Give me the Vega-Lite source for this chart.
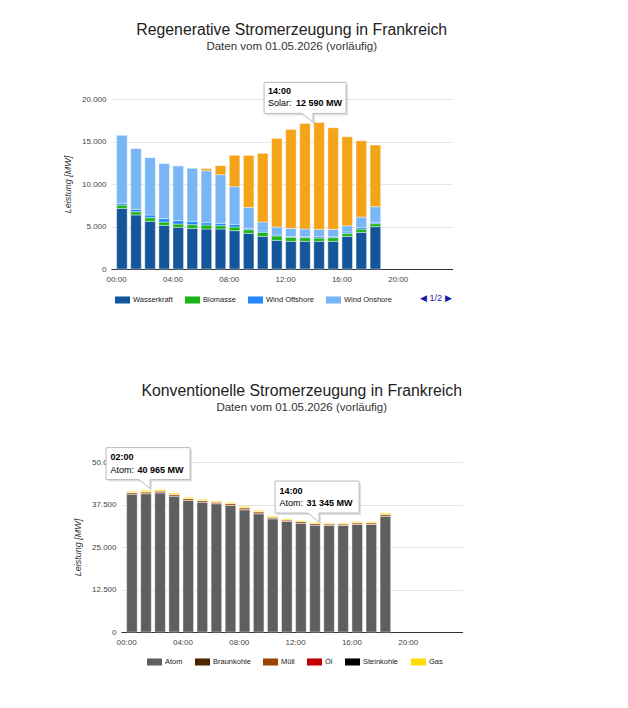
{
  "$schema": "https://vega.github.io/schema/vega-lite/v6.json",
  "padding": {"left": 63, "top": 22, "right": 10, "bottom": 10},
  "config": {
    "font": "Liberation Sans",
    "view": {"stroke": null},
    "legend": {"symbolType": "M-1,-0.47H1V0.47H-1Z", "symbolSize": 225, "symbolStrokeWidth": 0, "symbolOpacity": 1, "labelFontSize": 7.5, "labelColor": "#222", "labelOffset": 3, "columnPadding": 12, "orient": "bottom", "direction": "horizontal", "title": null},
    "title": {"fontSize": 15.8, "fontWeight": "normal", "color": "#222", "subtitleFontSize": 11.5, "subtitleColor": "#333", "subtitlePadding": 2, "anchor": "middle", "dx": 10},
    "axisX": {"labelFontSize": 8, "labelColor": "#444", "labelPadding": 6, "labelOffset": -5.3, "ticks": false, "grid": false, "domainColor": "#333", "domainWidth": 1.2, "labelAngle": 0, "title": null},
    "axisY": {"labelFontSize": 8, "labelColor": "#444", "labelPadding": 5, "ticks": false, "domain": false, "gridColor": "#e6e6e6", "titleFontStyle": "italic", "titleFontWeight": "normal", "titleFontSize": 9, "titleColor": "#333", "titlePadding": 9}
  },
  "datasets": {
    "reg": [
      {"time": "00:00", "Wasserkraft": 7130, "Biomasse": 390, "Wind Offshore": 200, "Wind Onshore": 8040, "Solar": 0},
      {"time": "01:00", "Wasserkraft": 6350, "Biomasse": 390, "Wind Offshore": 275, "Wind Onshore": 7175, "Solar": 0},
      {"time": "02:00", "Wasserkraft": 5605, "Biomasse": 430, "Wind Offshore": 315, "Wind Onshore": 6780, "Solar": 0},
      {"time": "03:00", "Wasserkraft": 5135, "Biomasse": 390, "Wind Offshore": 395, "Wind Onshore": 6505, "Solar": 0},
      {"time": "04:00", "Wasserkraft": 4900, "Biomasse": 390, "Wind Offshore": 395, "Wind Onshore": 6465, "Solar": 0},
      {"time": "05:00", "Wasserkraft": 4780, "Biomasse": 430, "Wind Offshore": 395, "Wind Onshore": 6275, "Solar": 0},
      {"time": "06:00", "Wasserkraft": 4705, "Biomasse": 470, "Wind Offshore": 275, "Wind Onshore": 6115, "Solar": 235},
      {"time": "07:00", "Wasserkraft": 4705, "Biomasse": 390, "Wind Offshore": 275, "Wind Onshore": 5725, "Solar": 1060},
      {"time": "08:00", "Wasserkraft": 4510, "Biomasse": 430, "Wind Offshore": 315, "Wind Onshore": 4430, "Solar": 3685},
      {"time": "09:00", "Wasserkraft": 4195, "Biomasse": 430, "Wind Offshore": 155, "Wind Onshore": 2470, "Solar": 6115},
      {"time": "10:00", "Wasserkraft": 3840, "Biomasse": 470, "Wind Offshore": 160, "Wind Onshore": 1060, "Solar": 8075},
      {"time": "11:00", "Wasserkraft": 3370, "Biomasse": 510, "Wind Offshore": 120, "Wind Onshore": 940, "Solar": 10425},
      {"time": "12:00", "Wasserkraft": 3255, "Biomasse": 470, "Wind Offshore": 120, "Wind Onshore": 940, "Solar": 11640},
      {"time": "13:00", "Wasserkraft": 3255, "Biomasse": 430, "Wind Offshore": 120, "Wind Onshore": 900, "Solar": 12425},
      {"time": "14:00", "Wasserkraft": 3255, "Biomasse": 390, "Wind Offshore": 155, "Wind Onshore": 860, "Solar": 12590},
      {"time": "15:00", "Wasserkraft": 3255, "Biomasse": 430, "Wind Offshore": 120, "Wind Onshore": 860, "Solar": 11955},
      {"time": "16:00", "Wasserkraft": 3840, "Biomasse": 350, "Wind Offshore": 160, "Wind Onshore": 745, "Solar": 10465},
      {"time": "17:00", "Wasserkraft": 4310, "Biomasse": 390, "Wind Offshore": 195, "Wind Onshore": 1215, "Solar": 8975},
      {"time": "18:00", "Wasserkraft": 4980, "Biomasse": 350, "Wind Offshore": 160, "Wind Onshore": 1840, "Solar": 7250}
    ],
    "regOrder": [
      {"source": "Wasserkraft", "rank": 1},
      {"source": "Biomasse", "rank": 2},
      {"source": "Wind Offshore", "rank": 3},
      {"source": "Wind Onshore", "rank": 4},
      {"source": "Solar", "rank": 5}
    ],
    "kon": [
      {"time": "00:00", "Atom": 40600, "Braunkohle": 0, "Müll": 500, "Öl": 0, "Steinkohle": 0, "Gas": 285},
      {"time": "01:00", "Atom": 40700, "Braunkohle": 0, "Müll": 550, "Öl": 0, "Steinkohle": 0, "Gas": 430},
      {"time": "02:00", "Atom": 40965, "Braunkohle": 0, "Müll": 550, "Öl": 0, "Steinkohle": 0, "Gas": 361},
      {"time": "03:00", "Atom": 40010, "Braunkohle": 0, "Müll": 520, "Öl": 0, "Steinkohle": 0, "Gas": 370},
      {"time": "04:00", "Atom": 38730, "Braunkohle": 0, "Müll": 520, "Öl": 0, "Steinkohle": 0, "Gas": 365},
      {"time": "05:00", "Atom": 38240, "Braunkohle": 0, "Müll": 500, "Öl": 0, "Steinkohle": 0, "Gas": 285},
      {"time": "06:00", "Atom": 37750, "Braunkohle": 0, "Müll": 500, "Öl": 0, "Steinkohle": 0, "Gas": 285},
      {"time": "07:00", "Atom": 37255, "Braunkohle": 0, "Müll": 500, "Öl": 100, "Steinkohle": 0, "Gas": 285},
      {"time": "08:00", "Atom": 35980, "Braunkohle": 0, "Müll": 500, "Öl": 150, "Steinkohle": 0, "Gas": 330},
      {"time": "09:00", "Atom": 34800, "Braunkohle": 0, "Müll": 500, "Öl": 150, "Steinkohle": 0, "Gas": 330},
      {"time": "10:00", "Atom": 33320, "Braunkohle": 0, "Müll": 500, "Öl": 0, "Steinkohle": 0, "Gas": 290},
      {"time": "11:00", "Atom": 32500, "Braunkohle": 0, "Müll": 500, "Öl": 0, "Steinkohle": 0, "Gas": 285},
      {"time": "12:00", "Atom": 32000, "Braunkohle": 0, "Müll": 500, "Öl": 0, "Steinkohle": 0, "Gas": 285},
      {"time": "13:00", "Atom": 31455, "Braunkohle": 0, "Müll": 500, "Öl": 0, "Steinkohle": 0, "Gas": 285},
      {"time": "14:00", "Atom": 31345, "Braunkohle": 0, "Müll": 480, "Öl": 0, "Steinkohle": 0, "Gas": 220},
      {"time": "15:00", "Atom": 31345, "Braunkohle": 0, "Müll": 480, "Öl": 0, "Steinkohle": 0, "Gas": 220},
      {"time": "16:00", "Atom": 31650, "Braunkohle": 0, "Müll": 500, "Öl": 0, "Steinkohle": 0, "Gas": 290},
      {"time": "17:00", "Atom": 31650, "Braunkohle": 0, "Müll": 500, "Öl": 0, "Steinkohle": 0, "Gas": 290},
      {"time": "18:00", "Atom": 34110, "Braunkohle": 0, "Müll": 550, "Öl": 0, "Steinkohle": 0, "Gas": 340}
    ],
    "konOrder": [
      {"source": "Atom", "rank": 1},
      {"source": "Braunkohle", "rank": 2},
      {"source": "Müll", "rank": 3},
      {"source": "Öl", "rank": 4},
      {"source": "Steinkohle", "rank": 5},
      {"source": "Gas", "rank": 6}
    ],
    "tipReg": [{"time": "14:00", "label": "Solar:", "mw": 12590, "top": 17250}],
    "tipKon": [
      {"time": "02:00", "label": "Atom:", "mw": 40965, "top": 41876},
      {"time": "14:00", "label": "Atom:", "mw": 31345, "top": 32045}
    ]
  },
  "spacing": 75,
  "resolve": {"scale": {"color": "independent", "x": "independent", "y": "independent"}},
  "vconcat": [
    {
      "width": 341.5,
      "height": 170,
      "title": {"text": "Regenerative Stromerzeugung in Frankreich", "subtitle": "Daten vom 01.05.2026 (vorläufig)", "offset": 27},
      "layer": [
        {
          "data": {"name": "reg"},
          "transform": [
            {"fold": ["Wasserkraft", "Biomasse", "Wind Offshore", "Wind Onshore", "Solar"], "as": ["source", "mw"]},
            {"lookup": "source", "from": {"data": {"name": "regOrder"}, "key": "source", "fields": ["rank"]}}
          ],
          "mark": {"type": "bar", "stroke": "#ffffff", "strokeWidth": 0.8, "strokeOpacity": 0.5},
          "encoding": {
            "x": {
              "field": "time", "type": "ordinal",
              "scale": {"domain": ["00:00","01:00","02:00","03:00","04:00","05:00","06:00","07:00","08:00","09:00","10:00","11:00","12:00","13:00","14:00","15:00","16:00","17:00","18:00","19:00","20:00","21:00","22:00","23:00"], "paddingInner": 0.25, "paddingOuter": 0.25, "align": 0.8},
              "axis": {"values": ["00:00","04:00","08:00","12:00","16:00","20:00"]}
            },
            "y": {
              "field": "mw", "type": "quantitative", "stack": "zero",
              "scale": {"domain": [0, 20000]},
              "axis": {"values": [0, 5000, 10000, 15000, 20000], "labelExpr": "replace(format(datum.value, ','), ',', '.')", "title": "Leistung [MW]"}
            },
            "color": {
              "field": "source", "type": "nominal",
              "scale": {"domain": ["Wasserkraft", "Biomasse", "Wind Offshore", "Wind Onshore", "Solar"], "range": ["#14569b", "#1bb51b", "#2188ff", "#79b6f7", "#f4a418"]},
              "legend": {"values": ["Wasserkraft", "Biomasse", "Wind Offshore", "Wind Onshore"], "padding": 4, "offset": 5, "title": "◀ 1/2 ▶", "titleOrient": "right", "titleFontSize": 9, "titleFontWeight": "normal", "titleColor": "#1a1aa8", "titlePadding": 28, "titleBaseline": "middle"}
            },
            "order": {"field": "rank", "type": "quantitative"}
          }
        },
        {
          "data": {"name": "tipReg"},
          "mark": {"type": "point", "shape": "M-53,-38H29V-7H-4V2L-15,-7H-53Z", "size": 4, "filled": true, "fill": "#000000", "fillOpacity": 0.12, "strokeWidth": 0},
          "encoding": {"x": {"field": "time", "type": "ordinal"}, "y": {"field": "top", "type": "quantitative"}}
        },
        {
          "data": {"name": "tipReg"},
          "mark": {"type": "point", "shape": "M-55,-40H27V-9H-6V0L-17,-9H-55Z", "size": 4, "filled": true, "fill": "#ffffff", "stroke": "#bbbbbb", "strokeWidth": 1, "opacity": 1},
          "encoding": {"x": {"field": "time", "type": "ordinal"}, "y": {"field": "top", "type": "quantitative"}}
        },
        {
          "data": {"name": "tipReg"},
          "mark": {"type": "text", "align": "left", "baseline": "alphabetic", "dx": -51, "dy": -28, "fontSize": 9, "fontWeight": "bold", "color": "#000"},
          "encoding": {"x": {"field": "time", "type": "ordinal"}, "y": {"field": "top", "type": "quantitative"}, "text": {"field": "time"}}
        },
        {
          "data": {"name": "tipReg"},
          "mark": {"type": "text", "align": "left", "baseline": "alphabetic", "dx": -51, "dy": -16, "fontSize": 9, "color": "#000"},
          "encoding": {"x": {"field": "time", "type": "ordinal"}, "y": {"field": "top", "type": "quantitative"}, "text": {"field": "label"}}
        },
        {
          "data": {"name": "tipReg"},
          "mark": {"type": "text", "align": "left", "baseline": "alphabetic", "dx": -23, "dy": -16, "fontSize": 9, "fontWeight": "bold", "color": "#000", "text": {"expr": "replace(format(datum.mw, ','), ',', ' ') + ' MW'"}},
          "encoding": {"x": {"field": "time", "type": "ordinal"}, "y": {"field": "top", "type": "quantitative"}}
        }
      ]
    },
    {
      "spacing": -42,
      "resolve": {"scale": {"color": "independent", "x": "independent", "y": "independent"}},
      "hconcat": [
        {
          "width": 1,
          "height": 1,
          "data": {"values": [{"a": 0}]},
          "mark": {"type": "point", "opacity": 0},
          "encoding": {}
        },
        {
          "width": 341.5,
          "height": 170,
          "title": {"text": "Konventionelle Stromerzeugung in Frankreich", "subtitle": "Daten vom 01.05.2026 (vorläufig)", "offset": 31},
          "layer": [
            {
              "data": {"name": "kon"},
              "transform": [
                {"fold": ["Atom", "Braunkohle", "Müll", "Öl", "Steinkohle", "Gas"], "as": ["source", "mw"]},
                {"lookup": "source", "from": {"data": {"name": "konOrder"}, "key": "source", "fields": ["rank"]}}
              ],
              "mark": {"type": "bar", "stroke": "#ffffff", "strokeWidth": 0.8, "strokeOpacity": 0.5},
              "encoding": {
                "x": {
                  "field": "time", "type": "ordinal",
                  "scale": {"domain": ["00:00","01:00","02:00","03:00","04:00","05:00","06:00","07:00","08:00","09:00","10:00","11:00","12:00","13:00","14:00","15:00","16:00","17:00","18:00","19:00","20:00","21:00","22:00","23:00"], "paddingInner": 0.25, "paddingOuter": 0.25, "align": 0.8},
                  "axis": {"values": ["00:00","04:00","08:00","12:00","16:00","20:00"]}
                },
                "y": {
                  "field": "mw", "type": "quantitative", "stack": "zero",
                  "scale": {"domain": [0, 50000]},
                  "axis": {"values": [0, 12500, 25000, 37500, 50000], "labelExpr": "replace(format(datum.value, ','), ',', '.')", "title": "Leistung [MW]"}
                },
                "color": {
                  "field": "source", "type": "nominal",
                  "scale": {"domain": ["Atom", "Braunkohle", "Müll", "Öl", "Steinkohle", "Gas"], "range": ["#5f5f5f", "#4d2600", "#9c4400", "#c00000", "#000000", "#ffdd00"]},
                  "legend": {"padding": 26, "offset": -18}
                },
                "order": {"field": "rank", "type": "quantitative"}
              }
            },
            {
              "data": {"name": "tipKon"},
              "mark": {"type": "point", "shape": "M-52,-40H32V-8H-8V1L-19,-8H-52Z", "size": 4, "filled": true, "fill": "#000000", "fillOpacity": 0.12, "strokeWidth": 0},
              "encoding": {"x": {"field": "time", "type": "ordinal"}, "y": {"field": "top", "type": "quantitative"}}
            },
            {
              "data": {"name": "tipKon"},
              "mark": {"type": "point", "shape": "M-54,-42H30V-10H-10V-1L-21,-10H-54Z", "size": 4, "filled": true, "fill": "#ffffff", "stroke": "#bbbbbb", "strokeWidth": 1, "opacity": 1},
              "encoding": {"x": {"field": "time", "type": "ordinal"}, "y": {"field": "top", "type": "quantitative"}}
            },
            {
              "data": {"name": "tipKon"},
              "mark": {"type": "text", "align": "left", "baseline": "alphabetic", "dx": -49.5, "dy": -29.5, "fontSize": 9, "fontWeight": "bold", "color": "#000"},
              "encoding": {"x": {"field": "time", "type": "ordinal"}, "y": {"field": "top", "type": "quantitative"}, "text": {"field": "time"}}
            },
            {
              "data": {"name": "tipKon"},
              "mark": {"type": "text", "align": "left", "baseline": "alphabetic", "dx": -49.5, "dy": -17, "fontSize": 9, "color": "#000"},
              "encoding": {"x": {"field": "time", "type": "ordinal"}, "y": {"field": "top", "type": "quantitative"}, "text": {"field": "label"}}
            },
            {
              "data": {"name": "tipKon"},
              "mark": {"type": "text", "align": "left", "baseline": "alphabetic", "dx": -22.5, "dy": -17, "fontSize": 9, "fontWeight": "bold", "color": "#000", "text": {"expr": "replace(format(datum.mw, ','), ',', ' ') + ' MW'"}},
              "encoding": {"x": {"field": "time", "type": "ordinal"}, "y": {"field": "top", "type": "quantitative"}}
            }
          ]
        }
      ]
    }
  ]
}
